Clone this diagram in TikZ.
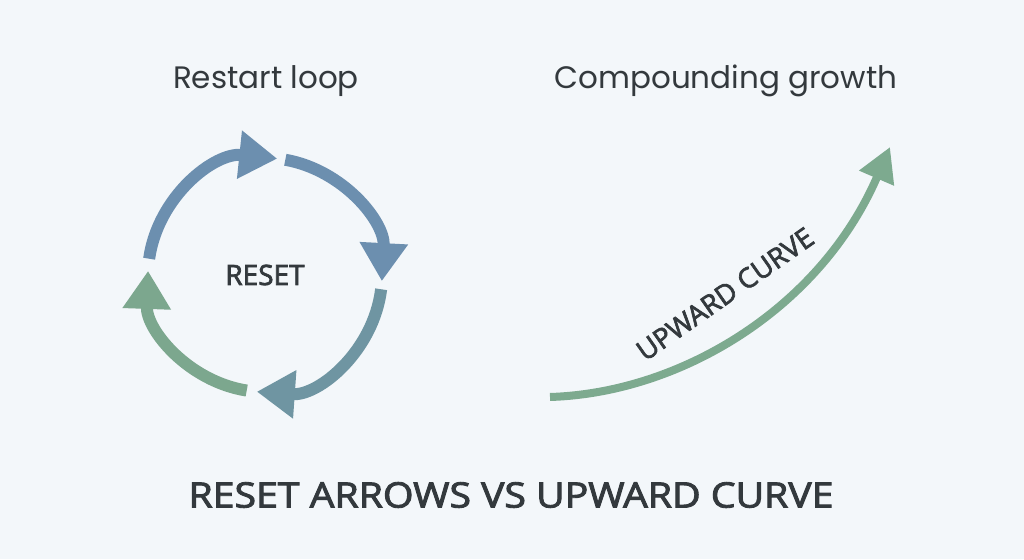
\documentclass[tikz,border=0pt]{standalone}
\usepackage{fontspec}
\setmainfont{Open Sans}
\newfontfamily\headfont{Poppins}
\newfontfamily\medfont[FakeBold=2.5]{Open Sans}
\usetikzlibrary{arrows.meta}
\definecolor{bgc}{HTML}{F3F7FA}
\definecolor{txt}{HTML}{33393D}
\definecolor{blueA}{HTML}{6C8FAF}
\definecolor{tealA}{HTML}{6F95A2}
\definecolor{greenA}{HTML}{7CA78E}
\definecolor{greenB}{HTML}{7DAA8F}
\tikzset{
  looparc/.style={line width=12pt, -{Triangle[length=38pt,width=46pt]}},
  growarc/.style={line width=8pt, draw=greenB, -{Triangle[length=34pt,width=36pt]}},
  headtxt/.style={text=txt, font=\headfont\fontsize{31}{36}\selectfont},
}
\begin{document}
\begin{tikzpicture}[x=1pt,y=1pt]
\useasboundingbox[fill=bgc] (0,0) rectangle (1024,559);
% titles
\node[headtxt] (h1) at (266,478) {Restart loop};
\node[headtxt] (h2) at (726,478) {Compounding growth};
% loop
\node[text=txt, font=\medfont\fontsize{28}{32}\selectfont] (reset) at (265,284) {RESET};
\coordinate (c) at (265,284);
\draw[looparc, draw=blueA, blueA] ([shift={(172:117)}]c) arc[start angle=172, end angle=84, radius=117];
\draw[looparc, draw=blueA, blueA] ([shift={(80:117)}]c) arc[start angle=80, end angle=-3, radius=117];
\draw[looparc, draw=tealA, tealA] ([shift={(-7:117)}]c) arc[start angle=-7, end angle=-94, radius=117];
\draw[looparc, draw=greenA, greenA] ([shift={(-99:117)}]c) arc[start angle=-99, end angle=-182, radius=117];
% growth curve
\coordinate (g0) at (550,162);
\coordinate (g1) at (890,412);
\draw[growarc, greenB] (g0) .. controls (680,166) and (820,250) .. (g1);
\node[text=txt, rotate=35, font=\medfont\fontsize{27.5}{32}\selectfont] (up) at (725,265) {UPWARD CURVE};
% bottom title
\node[text=txt, xscale=1.12, font=\medfont\fontsize{35}{40}\selectfont] (title) at (511,64) {RESET ARROWS VS UPWARD CURVE};
\end{tikzpicture}
\end{document}
